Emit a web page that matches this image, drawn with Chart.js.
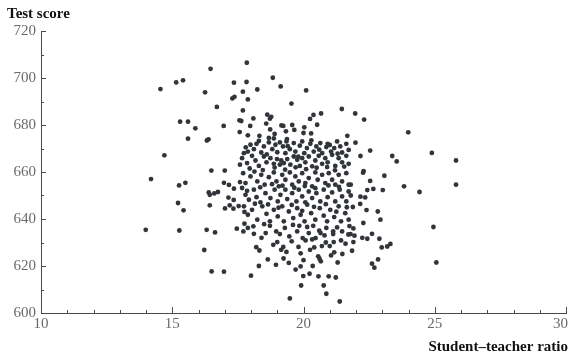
<!DOCTYPE html>
<html>
<head>
<meta charset="utf-8">
<script src="https://cdn.jsdelivr.net/npm/chart.js@4/dist/chart.umd.min.js"></script>
<style>
  html, body { margin: 0; padding: 0; background: #fff; }
  #wrap { width: 569px; height: 357px; position: relative; }
</style>
</head>
<body>
<div id="wrap"><canvas id="scatter"></canvas></div>
<script>
// student-teacher ratio / test score (one pair per position)
const ratio = [
  16.46, 15.15, 15.41, 14.55, 16.25, 17.35, 17.29, 17.37, 16.70, 15.30,
  15.60, 15.88, 16.96, 17.56, 17.57, 15.60, 16.38, 16.32,
  17.84, 17.83, 18.83, 17.69, 18.24, 19.13, 20.10, 17.88, 19.54, 21.46,
  17.69, 18.09, 17.63, 18.62, 18.77, 18.72, 18.58, 17.97, 19.16, 19.23,
  19.57, 20.25, 20.38, 20.67, 20.52, 20.03, 18.73, 19.33, 19.65, 20.00,
  20.29, 17.88, 18.32, 18.90, 18.68, 18.87, 19.37, 21.67,
  21.97, 22.31, 23.99,
  14.70, 14.19, 15.26, 15.50, 16.49, 17.00, 17.58, 17.58, 16.97, 17.16,
  17.35, 16.39, 16.43, 16.60, 16.74, 17.14, 17.34, 15.22, 15.43, 16.43,
  17.01, 17.19, 17.33, 17.53,
  21.98, 22.54, 22.17, 23.38, 23.55, 24.89, 25.81, 22.29, 22.27, 23.08,
  21.80, 22.54, 22.43, 22.66, 23.02, 23.83, 24.42, 25.81, 22.17, 22.35,
  22.16, 21.88, 22.40, 22.83, 22.93, 22.28,
  13.99, 15.27, 16.31, 16.63, 17.46, 16.22, 16.50, 16.97,
  21.79, 21.94, 21.90, 21.85, 22.24, 22.43, 22.61, 22.89, 22.98, 23.19,
  23.31, 22.61, 22.70, 22.84, 24.95, 25.06,
  18.32, 18.64, 18.30, 18.00, 19.00, 19.15, 19.23, 19.24, 19.44, 19.81,
  19.89, 19.89, 19.99, 19.91, 20.23, 20.25, 20.41, 20.56, 20.61, 20.66,
  20.57, 20.77, 20.87, 21.05, 21.17, 20.96, 21.23, 21.48, 19.48, 21.38,
  20.85, 21.15, 21.71,
  17.71, 17.88, 18.09, 18.11, 18.56, 18.72, 18.96, 19.10, 19.29, 19.46,
  19.76, 19.84, 19.97, 20.08, 20.33, 20.46, 20.14, 20.37, 20.60, 20.65,
  20.87, 21.13, 21.13, 21.28, 21.47, 21.43,
  17.73, 17.88, 17.98, 18.11, 18.21, 18.39, 18.49, 18.68, 18.81, 18.93,
  19.10, 19.22, 19.35, 19.31, 19.48, 19.63, 19.69, 19.86, 19.95, 20.03,
  20.13, 20.26, 20.39, 20.49, 20.64, 20.71, 20.87, 20.92, 21.05, 21.17,
  21.28, 21.40, 21.47, 21.63, 21.72,
  17.66, 17.85, 18.04, 18.17, 18.30, 18.49, 18.59, 18.74, 18.87, 18.99,
  19.10, 19.15, 19.25, 19.38, 19.50, 19.63, 19.76, 19.86, 19.95, 20.07,
  20.20, 20.33, 20.45, 20.58, 20.71, 20.83, 20.92, 21.09, 21.21, 21.34,
  21.47, 21.63, 21.72,
  17.70, 17.79, 17.98, 18.13, 18.24, 18.39, 18.52, 18.68, 18.87, 18.97,
  19.06, 19.19, 19.31, 19.48, 19.57, 19.69, 19.82, 19.95, 20.07, 20.20,
  20.33, 20.45, 20.54, 20.71, 20.83, 20.96, 21.09, 21.21, 21.34, 21.47,
  21.63, 21.72,
  17.66, 17.79, 17.92, 18.11, 18.21, 18.36, 18.55, 18.74, 18.90, 19.02,
  19.12, 19.31, 19.38, 19.57, 19.73, 19.82, 19.95, 20.07, 20.20, 20.33,
  20.49, 20.64, 20.77, 20.92, 21.09, 21.21, 21.38, 21.47, 21.63, 21.72,
  17.73, 17.88, 18.04, 18.24, 18.43, 18.59, 18.72, 18.87, 19.02, 19.19,
  19.25, 19.44, 19.61, 19.76, 19.89, 20.04, 20.14, 20.29, 20.45, 20.62,
  20.77, 20.90, 21.02, 21.17, 21.34, 21.43, 21.59, 21.72,
  17.80, 18.30, 18.60, 19.00, 19.40, 19.80, 20.30, 20.60, 21.00, 21.30,
  17.95, 18.45, 18.90, 19.30, 19.70, 20.10, 20.50, 20.90, 21.20, 21.55,
  17.85, 18.35, 18.80, 19.20, 19.65, 20.05, 20.45, 20.95, 21.35, 21.80,
  17.75, 18.15, 18.65, 19.05, 19.55, 19.95, 20.40, 20.85, 21.25, 21.65,
  18.40, 18.85, 19.55, 20.00, 20.35, 19.70, 21.00, 21.30, 18.95, 20.70,
  21.60, 19.35, 18.20, 20.20, 19.60, 21.75, 17.75, 18.50, 20.80, 21.90
];
const score = [
  703.9, 698.1, 699.0, 695.3, 693.9, 698.0, 691.3, 692.0, 687.7, 681.4,
  681.4, 678.6, 679.6, 682.0, 677.0, 674.2, 673.9, 673.4,
  706.5, 698.3, 700.1, 694.2, 695.1, 696.4, 694.7, 690.9, 689.1, 686.8,
  686.2, 682.8, 681.7, 684.4, 683.5, 682.7, 680.6, 679.6, 679.8, 679.6,
  680.0, 682.6, 684.3, 684.9, 680.1, 679.0, 678.1, 677.3, 677.9, 676.6,
  676.4, 675.6, 675.4, 676.2, 674.5, 674.3, 674.0, 675.4,
  684.9, 682.3, 676.9,
  667.1, 657.0, 654.3, 655.4, 660.6, 660.6, 663.1, 655.7, 655.4, 654.5,
  652.9, 651.3, 650.3, 650.9, 651.5, 649.1, 648.1, 646.8, 643.7, 645.8,
  644.5, 645.8, 644.4, 645.5,
  672.5, 669.1, 666.8, 666.8, 664.5, 668.1, 664.9, 660.4, 659.7, 658.4,
  654.6, 656.2, 652.3, 652.8, 652.3, 653.9, 651.5, 654.6, 649.5, 649.2,
  646.4, 645.1, 643.8, 643.2, 639.7, 638.3,
  635.4, 635.1, 635.4, 634.3, 635.9, 626.8, 617.7, 617.6,
  633.6, 632.9, 630.2, 626.5, 632.0, 631.6, 633.7, 631.6, 627.9, 628.3,
  629.4, 621.0, 619.3, 622.8, 636.6, 621.5,
  626.6, 622.8, 620.0, 615.9, 630.2, 626.9, 628.1, 623.2, 621.3, 628.1,
  625.4, 619.8, 615.7, 611.7, 616.7, 626.9, 627.9, 624.1, 623.1, 622.0,
  615.6, 611.7, 608.2, 624.5, 625.8, 615.6, 615.1, 625.1, 606.2, 604.9,
  630.0, 630.2, 633.4,
  634.7, 636.2, 636.9, 633.7, 634.0, 637.1, 634.7, 633.6, 636.2, 632.6,
  634.7, 637.1, 631.9, 630.9, 631.3, 631.9, 636.6, 637.1, 635.0, 634.0,
  636.2, 634.7, 633.6, 636.4, 634.7, 630.9,
  668.0, 668.7, 671.6, 669.7, 672.0, 668.3, 670.9, 672.6, 669.7, 671.6,
  672.6, 670.9, 673.0, 668.0, 669.7, 672.3, 668.7, 671.2, 673.0, 668.0,
  670.2, 672.0, 668.7, 670.9, 672.3, 668.0, 670.6, 672.0, 668.7, 670.2,
  673.0, 670.9, 668.3, 672.0, 669.4,
  665.9, 663.8, 666.9, 664.9, 662.6, 666.6, 664.1, 665.9, 663.5, 665.5,
  663.1, 664.9, 663.8, 665.5, 663.1, 666.6, 665.2, 662.6, 665.9, 664.1,
  666.6, 662.4, 664.9, 666.9, 663.5, 665.9, 664.1, 667.3, 662.6, 665.9,
  664.1, 666.9, 663.5,
  659.5, 655.3, 658.1, 660.2, 656.0, 658.8, 654.6, 657.8, 659.8, 656.0,
  653.9, 658.8, 656.7, 659.8, 654.6, 658.1, 656.0, 659.5, 655.3, 657.4,
  653.9, 659.8, 656.7, 658.8, 655.3, 659.5, 656.7, 654.6, 658.8, 656.0,
  659.5, 654.6,
  653.2, 650.3, 648.2, 652.5, 649.3, 647.1, 651.0, 648.9, 652.5, 647.5,
  650.3, 652.5, 648.5, 651.0, 647.5, 652.5, 649.6, 647.1, 651.7, 648.9,
  651.0, 647.5, 652.5, 649.3, 651.3, 647.5, 652.5, 649.6, 647.5, 651.7,
  645.4, 641.8, 643.9, 639.7, 645.4, 642.2, 639.0, 643.9, 641.1, 645.4,
  639.0, 643.2, 640.4, 644.6, 641.8, 639.0, 646.1, 642.5, 639.7, 644.6,
  641.4, 639.0, 643.9, 640.8, 645.4, 639.0, 642.5, 639.7,
  670.5, 673.2, 667.5, 668.4, 671.0, 666.5, 673.5, 669.5, 671.5, 667.8,
  661.5, 660.8, 661.9, 661.0, 662.0, 661.2, 661.8, 662.1, 660.7, 662.3,
  652.0, 653.5, 654.8, 654.2, 653.3, 654.0, 653.1, 654.3, 653.7, 650.0,
  643.0, 646.5, 646.2, 644.8, 646.0, 643.5, 645.2, 646.3, 643.1, 645.0,
  632.0, 629.0, 630.5, 622.5, 620.0, 618.5, 628.5, 621.5, 620.5, 628.5,
  629.5, 626.0, 628.0, 634.0, 637.5, 637.0, 638.0, 637.8, 633.0, 636.0
];
const xTicks = [10, 15, 20, 25, 30];
const yTicks = [600, 620, 640, 660, 680, 700, 720];
const xTitle = 'Student\u2013teacher ratio';
const yTitle = 'Test score';

const serif = '"Liberation Serif", "DejaVu Serif", serif';
const points = ratio.map((r, i) => ({ x: r, y: score[i] }));

// inward tick marks (major + minor), x tick labels and the two axis titles
const axisDecor = {
    id: 'axisDecor',
    afterDraw(chart) {
        const { ctx, width, scales: { x, y } } = chart;
        ctx.save();
        ctx.strokeStyle = '#4a4a4a';
        ctx.lineWidth = 1;
        ctx.beginPath();
        for (let v = 10; v <= 30; v++) {
            const px = Math.round(x.getPixelForValue(v)) + 0.5;
            const len = v % 5 === 0 ? 6 : 3;
            ctx.moveTo(px, y.bottom);
            ctx.lineTo(px, y.bottom - len);
        }
        for (let v = 600; v <= 720; v += 10) {
            const py = Math.round(y.getPixelForValue(v)) + 0.5;
            const len = v % 20 === 0 ? 5 : 3;
            ctx.moveTo(x.left, py);
            ctx.lineTo(x.left + len, py);
        }
        ctx.stroke();

        // x tick labels, the last one kept inside the canvas
        ctx.fillStyle = '#6a6a6a';
        ctx.font = '15px ' + serif;
        ctx.textBaseline = 'top';
        ctx.textAlign = 'center';
        xTicks.forEach(v => {
            const label = String(v);
            const w = ctx.measureText(label).width;
            let px = x.getPixelForValue(v);
            px = Math.min(px, width - 1 - w / 2);
            ctx.fillText(label, px, y.bottom + 4);
        });

        ctx.fillStyle = '#111';
        ctx.font = 'bold 15px ' + serif;
        ctx.textBaseline = 'alphabetic';
        ctx.textAlign = 'left';
        ctx.fillText(yTitle, 7, 18);
        ctx.textAlign = 'right';
        ctx.fillText(xTitle, 568, 351);
        ctx.restore();
    }
};

new Chart(document.getElementById('scatter'), {
    type: 'scatter',
    data: {
        datasets: [{
            data: points,
            backgroundColor: '#313439',
            borderWidth: 0,
            pointRadius: 2.4,
            pointHoverRadius: 2.4
        }]
    },
    options: {
        responsive: true,
        maintainAspectRatio: false,
        animation: false,
        layout: { padding: { top: 31, right: 3, left: 0, bottom: 0 } },
        plugins: {
            legend: { display: false },
            tooltip: { enabled: false }
        },
        scales: {
            x: {
                type: 'linear',
                min: 10,
                max: 30,
                afterBuildTicks: (s) => { s.ticks = xTicks.map(v => ({ value: v })); },
                afterFit: (s) => { s.height = 44; s.paddingLeft = 0; s.paddingRight = 0; },
                ticks: { display: false },
                grid: { display: false, drawTicks: false },
                border: { display: true, color: '#4a4a4a', width: 1 }
            },
            y: {
                type: 'linear',
                min: 600,
                max: 720,
                afterBuildTicks: (s) => { s.ticks = yTicks.map(v => ({ value: v })); },
                afterFit: (s) => { s.width = 41; s.paddingTop = 0; s.paddingBottom = 0; },
                ticks: {
                    color: '#6a6a6a',
                    font: { family: serif, size: 15 },
                    padding: 5
                },
                grid: { display: false, drawTicks: false },
                border: { display: true, color: '#4a4a4a', width: 1 }
            }
        }
    },
    plugins: [axisDecor]
});
</script>
</body>
</html>
